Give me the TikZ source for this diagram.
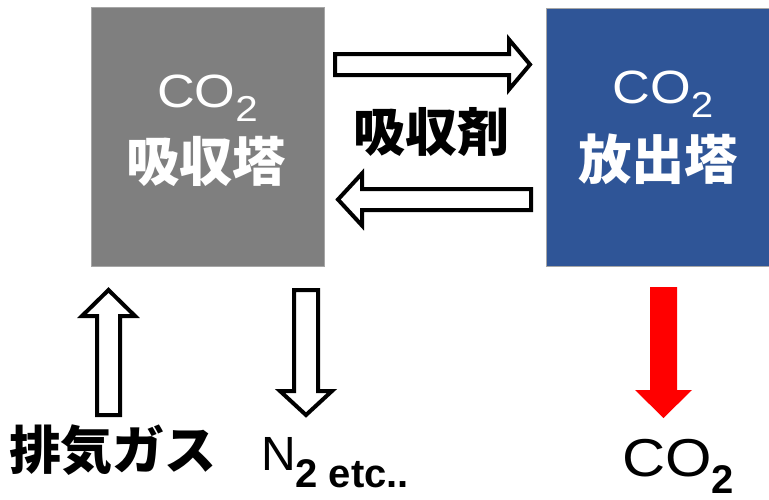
\documentclass[tikz,border=0pt]{standalone}
\usepackage{graphicx}
\usepackage{fontspec}
\setmainfont{Liberation Sans}
\newfontfamily\cjk{Noto Sans CJK JP}
\definecolor{towergray}{HTML}{7F7F7F}
\definecolor{towerblue}{HTML}{2F5597}
\definecolor{boxedge}{HTML}{A6A6A6}
\definecolor{flowred}{HTML}{FF0000}
\tikzset{
  tower/.style={draw=boxedge, line width=0.75pt, inner sep=0pt},
  hollow/.style={draw=black, fill=white, line width=3pt, line join=miter},
  solidred/.style={fill=flowred, draw=none},
  lbl/.style={inner sep=0pt, outer sep=0pt},
}
\newcommand{\widetxt}[1]{\scalebox{1.12}[1]{#1}}
\begin{document}
\begin{tikzpicture}[x=0.75pt,y=-0.75pt]
\useasboundingbox[fill=white] (0,0) rectangle (769,500);

% towers
\node[tower, fill=towergray, minimum width=174.75pt, minimum height=194.25pt] (abs) at (207.5,136.5) {};
\node[tower, fill=towerblue, minimum width=167.25pt, minimum height=193.5pt] (rel) at (657.5,137) {};

% tower labels
\node[lbl, anchor=base, text=white] (absco) at (207.5,107)
  {\widetxt{\fontsize{35}{35}\selectfont CO\raisebox{-11pt}{\fontsize{27}{27}\selectfont 2}}};
\node[lbl, text=white] (absjp) at (206,161)
  {{\cjk\bfseries\fontsize{40}{40}\selectfont 吸収塔}};
\node[lbl, anchor=base, text=white] (relco) at (663,103)
  {\widetxt{\fontsize{35}{35}\selectfont CO\raisebox{-11pt}{\fontsize{27}{27}\selectfont 2}}};
\node[lbl, text=white] (reljp) at (658,159)
  {{\cjk\bfseries\fontsize{40}{40}\selectfont 放出塔}};

% absorbent label
\node[lbl] (sorb) at (431,132) {{\cjk\bfseries\fontsize{39}{39}\selectfont 吸収剤}};

% horizontal block arrows
\draw[hollow] (335,54) -- (509,54) -- (509,39.5) -- (530,64.5) -- (509,89.5) -- (509,75) -- (335,75) -- cycle;
\draw[hollow] (531,189) -- (362,189) -- (362,173.5) -- (338,199.5) -- (362,225.5) -- (362,210) -- (531,210) -- cycle;

% vertical block arrows
\draw[hollow] (97,415) -- (97,316) -- (82,316) -- (108.5,290) -- (135,316) -- (120,316) -- (120,415) -- cycle;
\draw[hollow] (294,290) -- (294,391) -- (280,391) -- (306,415) -- (332,391) -- (318,391) -- (318,290) -- cycle;
\fill[solidred] (650,287) -- (650,390) -- (635,390) -- (663.5,418) -- (692,390) -- (677,390) -- (677,287) -- cycle;

% bottom labels
\node[lbl] (flue) at (113,450) {{\cjk\bfseries\fontsize{39}{39}\selectfont 排気ガス}};
\node[lbl, anchor=base west] (nout) at (261,470)
  {\fontsize{36}{36}\selectfont N\raisebox{-12.75pt}{\fontsize{30}{30}\selectfont\bfseries 2 etc..}};
\node[lbl, anchor=base west] (coout) at (622,476)
  {\widetxt{\fontsize{40}{40}\selectfont CO}\raisebox{-13pt}{\fontsize{30}{30}\selectfont\bfseries 2}};
\end{tikzpicture}
\end{document}
